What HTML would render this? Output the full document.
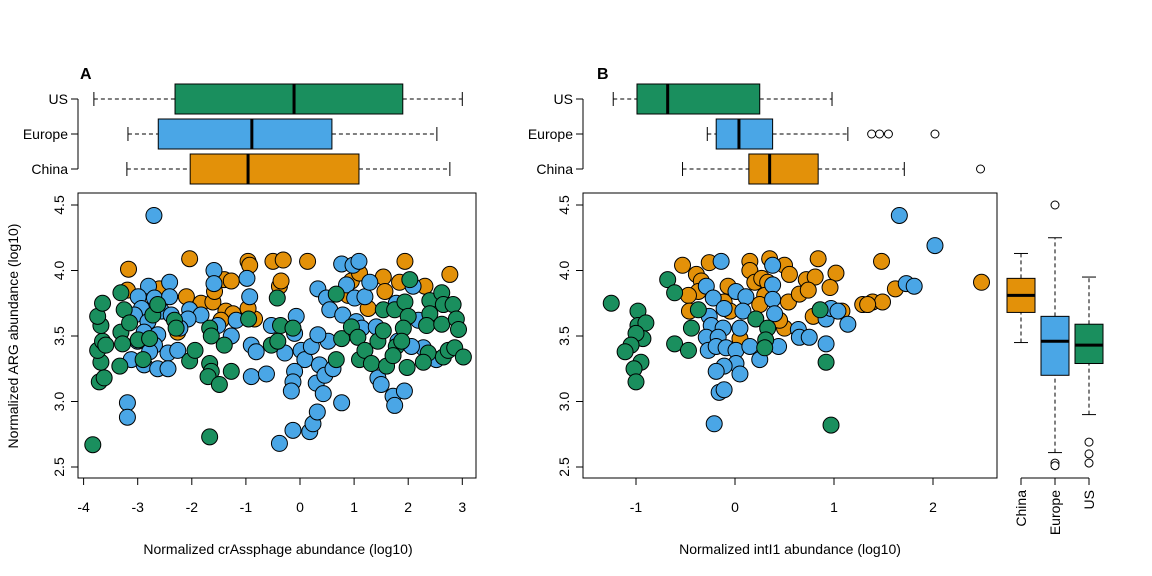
<!DOCTYPE html>
<html><head><meta charset="utf-8"><style>
body{margin:0;background:#fff;}
svg{display:block;font-family:"Liberation Sans",sans-serif;}
</style></head><body>
<svg id="chart" width="1152" height="576" viewBox="0 0 1152 576">
<text x="80" y="79" font-size="16" font-weight="bold">A</text>
<text x="597" y="79" font-size="16" font-weight="bold">B</text>
<text x="278" y="554" font-size="14" text-anchor="middle">Normalized crAssphage abundance (log10)</text>
<text x="790" y="554" font-size="14" text-anchor="middle">Normalized intI1 abundance (log10)</text>
<text transform="translate(18,336) rotate(-90)" font-size="14" text-anchor="middle">Normalized ARG abundance (log10)</text>
<g id="layer"></g>
</svg>
<script>
const regions=["China","Europe","US"];
const colors={China:"#E39109",Europe:"#4AA6E6",US:"#1A8F5E"};
// Panel A scatter data
const aChinaX=[-3.17,-2.04,-3.19,-2.6,-2.1,-1.83,-1.61,-1.58,-1.4,-1.27,-1.37,-1.24,-0.96,-0.93,-0.84,-0.96,-0.5,-0.31,-0.38,-0.35,0.14,0.95,1.1,0.89,1.54,1.57,1.84,1.94,2.31,2.77,1.26,-1.46,-2.26];
const aChinaY=[4.01,4.09,3.85,3.86,3.80,3.75,3.76,3.84,3.93,3.92,3.69,3.67,4.07,4.04,3.63,3.71,4.07,4.08,3.88,3.92,4.07,3.92,3.98,3.81,3.95,3.84,3.91,4.07,3.88,3.97,3.71,3.62,3.53];
const aEuropeX=[-2.7,-3.19,-3.19,-2.8,-2.41,-2.99,-2.69,-2.41,-2.93,-2.56,-3.06,-2.81,-2.38,-2.88,-2.63,-3.0,-2.69,-2.44,-2.26,-3.12,-2.88,-2.63,-2.44,-2.78,-2.04,-1.83,-2.07,-2.22,-1.59,-1.59,-1.52,-1.27,-1.18,-0.98,-0.93,-0.9,-0.81,-0.9,-0.62,-0.53,-0.07,-0.10,-0.28,0.02,0.09,0.21,-0.1,-0.13,-0.16,-0.38,-0.13,0.18,0.24,0.32,0.30,0.43,0.36,0.46,0.61,0.52,0.33,0.77,0.33,0.49,0.55,0.79,0.86,0.77,0.98,1.09,1.01,1.2,1.29,1.04,1.14,1.41,1.44,1.5,1.72,1.75,1.93,1.78,2.09,2.19,2.28,2.52,1.81,2.06];
const aEuropeY=[4.42,2.99,2.88,3.88,3.91,3.80,3.79,3.80,3.71,3.69,3.66,3.61,3.66,3.53,3.51,3.46,3.43,3.37,3.39,3.32,3.28,3.25,3.25,3.38,3.70,3.66,3.63,3.56,4.0,3.9,3.58,3.50,3.62,3.94,3.80,3.43,3.38,3.19,3.21,3.58,3.65,3.52,3.37,3.39,3.32,3.42,3.23,3.15,3.08,2.68,2.78,2.77,2.83,2.92,3.14,3.06,3.28,3.2,3.25,3.46,3.51,2.99,3.86,3.79,3.70,3.66,3.89,4.05,4.04,4.07,3.79,3.80,3.91,3.61,3.56,3.57,3.18,3.13,3.04,2.97,3.08,3.75,3.88,3.62,3.41,3.32,3.46,3.42];
const aUSX=[-3.83,-3.71,-3.62,-3.68,-3.74,-3.65,-3.59,-3.68,-3.74,-3.65,-3.31,-3.25,-3.31,-3.28,-3.15,-2.99,-2.78,-2.72,-2.63,-3.33,-2.9,-2.32,-2.29,-2.04,-1.94,-1.67,-1.67,-1.64,-1.7,-1.49,-1.27,-1.67,-1.64,-1.4,-0.95,-0.42,-0.36,-0.13,-0.53,-0.41,0.67,0.77,0.95,1.07,0.67,1.1,1.2,1.32,1.44,1.54,1.75,1.94,2.0,1.91,1.54,1.78,1.88,1.6,1.98,1.72,2.03,2.4,2.62,2.65,2.4,2.34,2.62,2.83,2.89,2.93,2.37,2.28,2.65,2.74,2.86,3.02];
const aUSY=[2.67,3.15,3.18,3.30,3.39,3.46,3.43,3.58,3.65,3.75,3.83,3.70,3.53,3.44,3.60,3.47,3.48,3.66,3.74,3.27,3.32,3.62,3.56,3.31,3.39,2.73,3.29,3.23,3.19,3.13,3.23,3.56,3.50,3.43,3.63,3.79,3.58,3.56,3.43,3.46,3.82,3.48,3.57,3.49,3.32,3.32,3.39,3.29,3.46,3.70,3.70,3.76,3.65,3.56,3.54,3.42,3.46,3.27,3.26,3.35,3.93,3.77,3.83,3.74,3.67,3.58,3.59,3.74,3.63,3.55,3.37,3.30,3.34,3.39,3.41,3.34];
// Panel B scatter data
const bChinaX=[-0.53,-0.26,-0.39,-0.34,-0.37,-0.47,-0.46,-0.07,-0.11,0.15,0.15,0.2,0.27,0.33,0.35,0.3,0.25,0.5,0.55,0.54,0.65,0.72,0.81,0.74,0.84,1.02,0.96,0.79,1.08,0.5,0.45,0.05,-0.05,1.29,1.39,1.49,1.48,1.62,2.49,1.34];
const bChinaY=[4.04,4.06,3.97,3.92,3.84,3.81,3.69,3.88,3.76,4.07,4.0,3.91,3.94,3.91,4.09,3.81,3.74,4.04,3.97,3.76,3.82,3.93,3.95,3.85,4.09,3.98,3.87,3.65,3.69,3.56,3.62,3.48,3.69,3.74,3.76,3.76,4.07,3.86,3.91,3.74];
const bEuropeX=[1.66,2.02,-0.14,0.38,-0.29,-0.22,0.01,0.11,0.38,0.38,-0.11,0.08,-0.26,-0.24,-0.12,0.05,0.4,-0.29,-0.17,-0.27,-0.19,-0.09,0.01,0.15,0.25,0.44,0.01,-0.11,-0.19,0.05,-0.16,-0.11,-0.21,0.64,0.65,0.75,0.92,0.92,0.97,1.04,1.14,1.73,1.81];
const bEuropeY=[4.42,4.19,4.07,4.04,3.88,3.79,3.84,3.80,3.89,3.78,3.71,3.69,3.65,3.58,3.56,3.56,3.67,3.49,3.49,3.39,3.42,3.41,3.39,3.42,3.32,3.42,3.29,3.27,3.23,3.21,3.07,3.09,2.83,3.55,3.49,3.49,3.44,3.63,3.71,3.69,3.59,3.9,3.88];
const bUSX=[-1.25,-0.98,-0.98,-0.9,-0.93,-1.0,-1.05,-1.11,-0.95,-1.02,-1.0,-0.68,-0.61,-0.37,-0.44,-0.61,-0.47,0.21,0.33,0.31,0.3,0.86,0.92,0.97];
const bUSY=[3.75,3.69,3.58,3.6,3.48,3.52,3.43,3.38,3.3,3.25,3.15,3.93,3.83,3.7,3.56,3.44,3.39,3.63,3.56,3.47,3.41,3.7,3.3,2.82];
// Box plot stats: [lowWhisker, q1, median, q3, highWhisker]
const boxA={China:[-3.2,-2.03,-0.96,1.09,2.77],Europe:[-3.18,-2.62,-0.89,0.59,2.53],US:[-3.81,-2.31,-0.11,1.9,3.0]};
const boxB={China:[-0.53,0.14,0.35,0.84,1.71],Europe:[-0.28,-0.19,0.04,0.38,1.14],US:[-1.23,-0.99,-0.68,0.25,0.98]};
const outB={China:[2.48],Europe:[1.38,1.46,1.55,2.02],US:[]};
const boxY={China:[3.45,3.68,3.81,3.94,4.13],Europe:[2.61,3.2,3.46,3.65,4.25],US:[2.9,3.29,3.43,3.59,3.95]};
const outY={China:[],Europe:[4.5,2.53,2.51],US:[2.69,2.6,2.53]};
const xTicksA=[-4,-3,-2,-1,0,1,2,3];
const xTicksB=[-1,0,1,2];
const yTicks=[2.5,3.0,3.5,4.0,4.5];

const NS="http://www.w3.org/2000/svg";
const layer=document.getElementById('layer');
function mk(tag,attrs,parent){const e=document.createElementNS(NS,tag);for(const k in attrs)e.setAttribute(k,attrs[k]);(parent||layer).appendChild(e);return e;}
const yS=v=>205+(4.5-v)*131;
const xA=v=>300+v*54.1;
const xB=v=>735+v*99;
const rowY={US:99,Europe:134,China:169};
const colX={China:1021,Europe:1055,US:1089};

function frame(x0,x1,name){
  const r=mk('rect',{x:x0,y:193,width:x1-x0,height:285,fill:'none',stroke:'#000','stroke-width':1});
  
  
}
frame(78,476,'plot-frame-a');frame(583,997,'plot-frame-b');

function yAxis(x0,name){
  const g=mk('g',{});
  
  
  yTicks.forEach(t=>{
    mk('line',{x1:x0-7,x2:x0,y1:yS(t),y2:yS(t),stroke:'#000'},g);
    const tx=mk('text',{transform:`translate(${x0-14},${yS(t)}) rotate(-90)`,'font-size':14,'text-anchor':'middle'},g);
    tx.textContent=t.toFixed(1);
  });
}
yAxis(78,'y-axis-a');yAxis(583,'y-axis-b');

function xAxis(ticks,sx,name){
  const g=mk('g',{});
  
  
  ticks.forEach(t=>{
    mk('line',{x1:sx(t),x2:sx(t),y1:478,y2:485,stroke:'#000'},g);
    const tx=mk('text',{x:sx(t),y:512,'font-size':14,'text-anchor':'middle'},g);
    tx.textContent=t;
  });
}
xAxis(xTicksA,xA,'x-axis-a');xAxis(xTicksB,xB,'x-axis-b');

function scatter(xs,ys,sx,region,name){
  const g=mk('g',{});
  
  
  xs.forEach((v,i)=>{
    const c=mk('circle',{cx:sx(v),cy:yS(ys[i]),r:8,fill:colors[region],stroke:'#000','stroke-width':1},g);
    
    
  });
}
scatter(aChinaX,aChinaY,xA,'China','points-a-china');
scatter(aEuropeX,aEuropeY,xA,'Europe','points-a-europe');
scatter(aUSX,aUSY,xA,'US','points-a-us');
scatter(bChinaX,bChinaY,xB,'China','points-b-china');
scatter(bEuropeX,bEuropeY,xB,'Europe','points-b-europe');
scatter(bUSX,bUSY,xB,'US','points-b-us');

function hbox(stats,outs,sx,x0,name){
  const g=mk('g',{});
  
  
  mk('line',{x1:x0,x2:x0,y1:99,y2:169,stroke:'#000'},g);
  regions.forEach(r=>{
    const s=stats[r],y=rowY[r];
    mk('line',{x1:x0-7,x2:x0,y1:y,y2:y,stroke:'#000'},g);
    const t=mk('text',{x:x0-10,y:y+5,'font-size':14,'text-anchor':'end'},g);t.textContent=r;
    mk('line',{x1:sx(s[0]),x2:sx(s[1]),y1:y,y2:y,stroke:'#000','stroke-dasharray':'4,3'},g);
    mk('line',{x1:sx(s[3]),x2:sx(s[4]),y1:y,y2:y,stroke:'#000','stroke-dasharray':'4,3'},g);
    mk('line',{x1:sx(s[0]),x2:sx(s[0]),y1:y-7,y2:y+7,stroke:'#000'},g);
    mk('line',{x1:sx(s[4]),x2:sx(s[4]),y1:y-7,y2:y+7,stroke:'#000'},g);
    const b=mk('rect',{x:sx(s[1]),y:y-15,width:sx(s[3])-sx(s[1]),height:30,fill:colors[r],stroke:'#000'},g);
    
    
    mk('line',{x1:sx(s[2]),x2:sx(s[2]),y1:y-15,y2:y+15,stroke:'#000','stroke-width':3},g);
    (outs?outs[r]:[]).forEach(o=>mk('circle',{cx:sx(o),cy:y,r:4,fill:'#fff',stroke:'#000'},g));
  });
}
hbox(boxA,null,xA,78,'top-boxplot-a');
hbox(boxB,outB,xB,583,'top-boxplot-b');

(function(){
  const g=mk('g',{});
  
  
  mk('line',{x1:1021,x2:1089,y1:478,y2:478,stroke:'#000'},g);
  regions.forEach(r=>{
    const s=boxY[r],x=colX[r];
    mk('line',{x1:x,x2:x,y1:478,y2:485,stroke:'#000'},g);
    const t=mk('text',{transform:`translate(${x+5},490) rotate(-90)`,'font-size':14,'text-anchor':'end'},g);t.textContent=r;
    mk('line',{x1:x,x2:x,y1:yS(s[0]),y2:yS(s[1]),stroke:'#000','stroke-dasharray':'4,3'},g);
    mk('line',{x1:x,x2:x,y1:yS(s[3]),y2:yS(s[4]),stroke:'#000','stroke-dasharray':'4,3'},g);
    mk('line',{x1:x-7,x2:x+7,y1:yS(s[0]),y2:yS(s[0]),stroke:'#000'},g);
    mk('line',{x1:x-7,x2:x+7,y1:yS(s[4]),y2:yS(s[4]),stroke:'#000'},g);
    const b=mk('rect',{x:x-14,y:yS(s[3]),width:28,height:yS(s[1])-yS(s[3]),fill:colors[r],stroke:'#000'},g);
    
    
    mk('line',{x1:x-14,x2:x+14,y1:yS(s[2]),y2:yS(s[2]),stroke:'#000','stroke-width':3},g);
    outY[r].forEach(o=>mk('circle',{cx:x,cy:yS(o),r:4,fill:'#fff',stroke:'#000'},g));
  });
})();
</script>
</body></html>
